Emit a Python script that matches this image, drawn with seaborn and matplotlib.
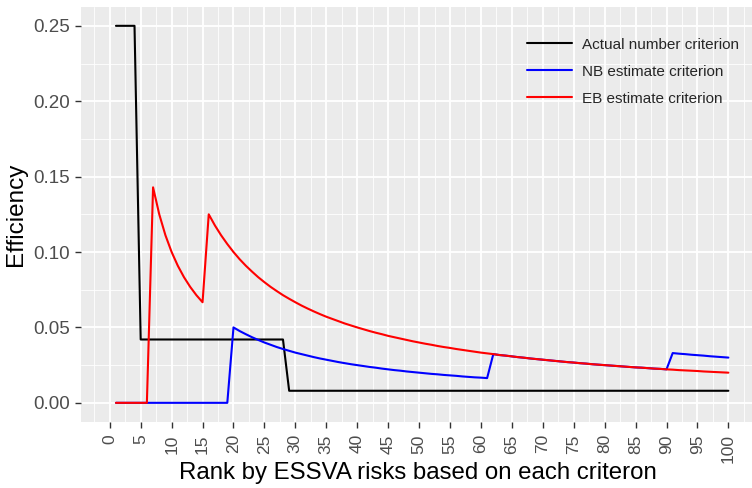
import pandas as pd
import matplotlib
matplotlib.use("Agg")
import matplotlib.pyplot as plt
from matplotlib.ticker import MultipleLocator
import seaborn as sns

ranks = list(range(1, 101))

actual = [0.25] * 4 + [0.042] * 24 + [0.008] * 72

nb = [0.0] * 19 + [
    0.0500, 0.0476, 0.0455, 0.0435, 0.0417, 0.0400, 0.0385, 0.0370, 0.0357, 0.0345,
    0.0333, 0.0323, 0.0313, 0.0303, 0.0294, 0.0286, 0.0278, 0.0270, 0.0263, 0.0256,
    0.0250, 0.0244, 0.0238, 0.0233, 0.0227, 0.0222, 0.0217, 0.0213, 0.0208, 0.0204,
    0.0200, 0.0196, 0.0192, 0.0189, 0.0185, 0.0182, 0.0179, 0.0175, 0.0172, 0.0169,
    0.0167, 0.0164,
    0.0323, 0.0317, 0.0313, 0.0308, 0.0303, 0.0299, 0.0294, 0.0290, 0.0286, 0.0282,
    0.0278, 0.0274, 0.0270, 0.0267, 0.0263, 0.0260, 0.0256, 0.0253, 0.0250, 0.0247,
    0.0244, 0.0241, 0.0238, 0.0235, 0.0233, 0.0230, 0.0227, 0.0225, 0.0222,
    0.0330, 0.0326, 0.0323, 0.0319, 0.0316, 0.0313, 0.0309, 0.0306, 0.0303, 0.0300,
]

eb = [0.0] * 6 + [
    0.1429, 0.1250, 0.1111, 0.1000, 0.0909, 0.0833, 0.0769, 0.0714, 0.0667,
    0.1250, 0.1176, 0.1111, 0.1053, 0.1000, 0.0952, 0.0909, 0.0870, 0.0833, 0.0800,
    0.0769, 0.0741, 0.0714, 0.0690, 0.0667, 0.0645, 0.0625, 0.0606, 0.0588, 0.0571,
    0.0556, 0.0541, 0.0526, 0.0513, 0.0500, 0.0488, 0.0476, 0.0465, 0.0455, 0.0444,
    0.0435, 0.0426, 0.0417, 0.0408, 0.0400, 0.0392, 0.0385, 0.0377, 0.0370, 0.0364,
    0.0357, 0.0351, 0.0345, 0.0339, 0.0333, 0.0328, 0.0323, 0.0317, 0.0313, 0.0308,
    0.0303, 0.0299, 0.0294, 0.0290, 0.0286, 0.0282, 0.0278, 0.0274, 0.0270, 0.0267,
    0.0263, 0.0260, 0.0256, 0.0253, 0.0250, 0.0247, 0.0244, 0.0241, 0.0238, 0.0235,
    0.0233, 0.0230, 0.0227, 0.0225, 0.0222, 0.0220, 0.0217, 0.0215, 0.0213, 0.0211,
    0.0208, 0.0206, 0.0204, 0.0202, 0.0200,
]

series_names = ["Actual number criterion", "NB estimate criterion", "EB estimate criterion"]
series_colors = ["black", "blue", "red"]

df = pd.concat([
    pd.DataFrame({"Rank": ranks, "Efficiency": vals, "Criterion": name})
    for name, vals in zip(series_names, [actual, nb, eb])
])

sns.set_theme(style="darkgrid", rc={
    "axes.facecolor": "#EBEBEB",
    "figure.facecolor": "white",
    "grid.color": "white",
    "axes.edgecolor": "#EBEBEB",
})
plt.rcParams["font.family"] = ["Liberation Sans", "DejaVu Sans"]

fig = plt.figure(figsize=(7.52, 4.88), dpi=100)
ax = fig.add_axes([0.1073, 0.1359, 0.902, 0.8498])

sns.lineplot(data=df, x="Rank", y="Efficiency", hue="Criterion",
             hue_order=series_names, palette=series_colors, linewidth=1.5, ax=ax)

ax.set_xlim(-4.7, 104.95)
ax.set_ylim(-0.0125, 0.2625)
ax.xaxis.set_major_locator(MultipleLocator(5))
ax.xaxis.set_minor_locator(MultipleLocator(2.5))
ax.yaxis.set_major_locator(MultipleLocator(0.05))
ax.yaxis.set_minor_locator(MultipleLocator(0.025))
ax.yaxis.set_major_formatter(plt.FuncFormatter(lambda v, p: f"{v:.2f}"))
ax.grid(which="major", color="white", linewidth=1.3)
ax.grid(which="minor", color="white", linewidth=0.6)
for s in ax.spines.values():
    s.set_visible(False)

ax.tick_params(axis="both", which="major", direction="out", length=4, width=1,
               color="#333333", labelcolor="#4D4D4D", labelsize=13.5,
               bottom=True, left=True)
ax.tick_params(axis="both", which="minor", length=0)
ax.tick_params(axis="x", labelrotation=90, pad=5, labelsize=12.5)

ax.set_xlabel("Rank by ESSVA risks based on each criteron", fontsize=17.3, color="black")
ax.xaxis.label.set_va("baseline")
ax.xaxis.set_label_coords(0.497, -0.138)
ax.set_ylabel("Efficiency", fontsize=17.5, color="black", labelpad=5)

leg = ax.legend(loc="upper left", bbox_to_anchor=(0.683, 0.951), bbox_transform=fig.transFigure,
                frameon=False, fontsize=11, handlelength=2.95, handletextpad=0.65,
                labelspacing=0.85, title=None)

fig.savefig("out.png", dpi=100)
